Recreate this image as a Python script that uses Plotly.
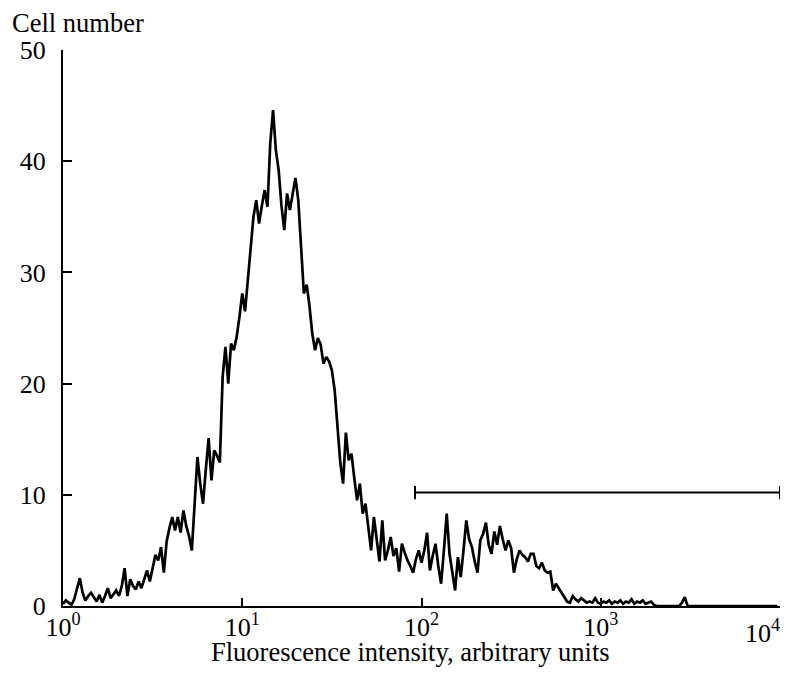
import plotly.graph_objects as go

# Flow-cytometry histogram: 256 channels spanning 4 decades (64 channels/decade)
channels = list(range(256))
counts = [
    0.2, 0.5, 0.3, 0.1, 0.6, 1.5, 2.5, 1.2, 0.5, 0.9, 1.2, 0.8, 0.4, 1.0, 0.3, 0.9,
    1.6, 0.7, 1.1, 1.4, 0.9, 1.8, 3.4, 0.9, 2.4, 1.8, 1.5, 2.2, 1.6, 2.4, 3.2, 2.2,
    3.5, 4.6, 4.1, 5.3, 3.0, 5.8, 7.0, 8.0, 6.8, 8.0, 6.6, 8.6, 7.2, 6.3, 5.0, 9.5,
    13.4, 11.0, 9.2, 12.3, 15.1, 11.3, 14.0, 13.5, 12.9, 20.6, 23.3, 20.0, 23.6, 23.0, 24.2, 26.0,
    28.1, 26.5, 29.6, 32.0, 35.0, 36.5, 34.4, 36.0, 37.4, 35.9, 41.6, 44.6, 41.0, 39.2, 36.0, 33.8,
    37.1, 35.6, 37.0, 38.5, 36.5, 32.0, 28.1, 28.9, 27.0, 24.5, 23.0, 24.1, 23.5, 21.8, 22.4, 22.0,
    21.2, 19.4, 15.8, 12.9, 11.0, 15.6, 13.1, 13.7, 11.5, 9.5, 11.0, 8.3, 9.2, 7.0, 5.0, 8.0,
    6.0, 4.0, 7.7, 4.1, 5.0, 6.2, 4.5, 5.2, 3.1, 5.6, 4.8, 4.1, 3.6, 3.0, 4.2, 5.0,
    3.9, 5.0, 6.6, 3.2, 4.5, 5.6, 3.6, 2.0, 5.0, 8.3, 4.7, 3.0, 1.4, 4.4, 2.6, 5.0,
    7.7, 6.0, 5.3, 4.0, 3.0, 5.9, 6.5, 7.5, 5.5, 4.7, 6.7, 5.5, 7.2, 6.0, 5.0, 5.9,
    5.2, 3.0, 4.2, 5.0, 4.6, 4.4, 4.0, 4.7, 4.7, 3.6, 3.4, 3.9, 3.2, 3.0, 3.1, 1.4,
    2.0, 1.6, 1.2, 0.8, 0.4, 0.3, 0.9, 0.6, 0.4, 0.7, 0.5, 0.3, 0.4, 0.3, 0.7, 0.3,
    0.2, 0.4, 0.3, 0.5, 0.2, 0.4, 0.3, 0.5, 0.2, 0.4, 0.3, 0.6, 0.2, 0.4, 0.3, 0.5,
    0.2, 0.3, 0.4, 0.1, 0, 0, 0, 0, 0, 0, 0, 0, 0, 0.3, 0.8, 0,
    0, 0, 0, 0, 0, 0, 0, 0, 0, 0, 0, 0, 0, 0, 0, 0,
    0, 0, 0, 0, 0, 0, 0, 0, 0, 0, 0, 0, 0, 0, 0, 0,
]
channels_per_decade = 64
intensity = [10 ** (c / channels_per_decade) for c in channels]

x_tickvals = [1, 10, 100, 1000, 10000]
x_ticktext = ["10<sup>0</sup>", "10<sup>1</sup>", "10<sup>2</sup>", "10<sup>3</sup>", ""]
last_tick_label = "10<sup>4</sup>"   # drawn as an annotation so it is not dropped at the edge
y_tickvals = [0, 10, 20, 30, 40, 50]

# gate marker (bracket) over the bright population
gate_start = 92
gate_end = 10000
gate_level = 10.2
gate_cap = 0.6

FONT = "Liberation Serif, Times New Roman, serif"

fig = go.Figure()
fig.add_trace(go.Scatter(
    x=intensity, y=counts, mode="lines",
    line=dict(color="black", width=2.7),
    hoverinfo="skip", showlegend=False,
))

line_style = dict(color="black", width=2)
fig.add_shape(type="line", xref="x", yref="y", x0=gate_start, x1=gate_end,
              y0=gate_level, y1=gate_level, line=line_style)
fig.add_shape(type="line", xref="x", yref="y", x0=gate_start, x1=gate_start,
              y0=gate_level - gate_cap, y1=gate_level + gate_cap, line=line_style)
fig.add_shape(type="line", xref="x", yref="y", x0=gate_end, x1=gate_end,
              y0=gate_level - gate_cap, y1=gate_level + gate_cap, line=line_style)

# figure sized to fit inside the 795x676 window together with the 8px page margin
fig.update_layout(
    width=787, height=668,
    margin=dict(l=55, r=15, t=42, b=70),
    paper_bgcolor="white", plot_bgcolor="white",
    font=dict(family=FONT, size=26, color="black"),
    showlegend=False,
    xaxis=dict(
        type="log", range=[0, 4],
        tickvals=x_tickvals, ticktext=x_ticktext,
        ticks="inside", ticklen=8, tickwidth=2, tickcolor="black",
        showline=True, linecolor="black", linewidth=2,
        showgrid=False, zeroline=False,
        ticklabelstandoff=-3,
        tickfont=dict(family=FONT, size=26, color="black"),
    ),
    yaxis=dict(
        range=[0, 50],
        tickvals=y_tickvals,
        ticks="inside", ticklen=9, tickwidth=2, tickcolor="black",
        showline=True, linecolor="black", linewidth=2,
        showgrid=False, zeroline=False,
        ticklabelstandoff=10,
        tickfont=dict(family=FONT, size=26, color="black"),
    ),
    annotations=[
        dict(text="Cell number", xref="paper", yref="paper",
             x=-0.074, y=1.048, xanchor="left", yanchor="middle",
             showarrow=False, font=dict(family=FONT, size=26.5, color="black")),
        dict(text="Fluorescence intensity, arbitrary units", xref="paper", yref="paper",
             x=0.485, y=-0.083, xanchor="center", yanchor="middle",
             showarrow=False, font=dict(family=FONT, size=26.5, color="black")),
        dict(text=last_tick_label, xref="x", yref="paper",
             x=4, y=-0.046, xanchor="right", yanchor="middle", xshift=2,
             showarrow=False, font=dict(family=FONT, size=26, color="black")),
    ],
)

fig.write_html("out.html")
